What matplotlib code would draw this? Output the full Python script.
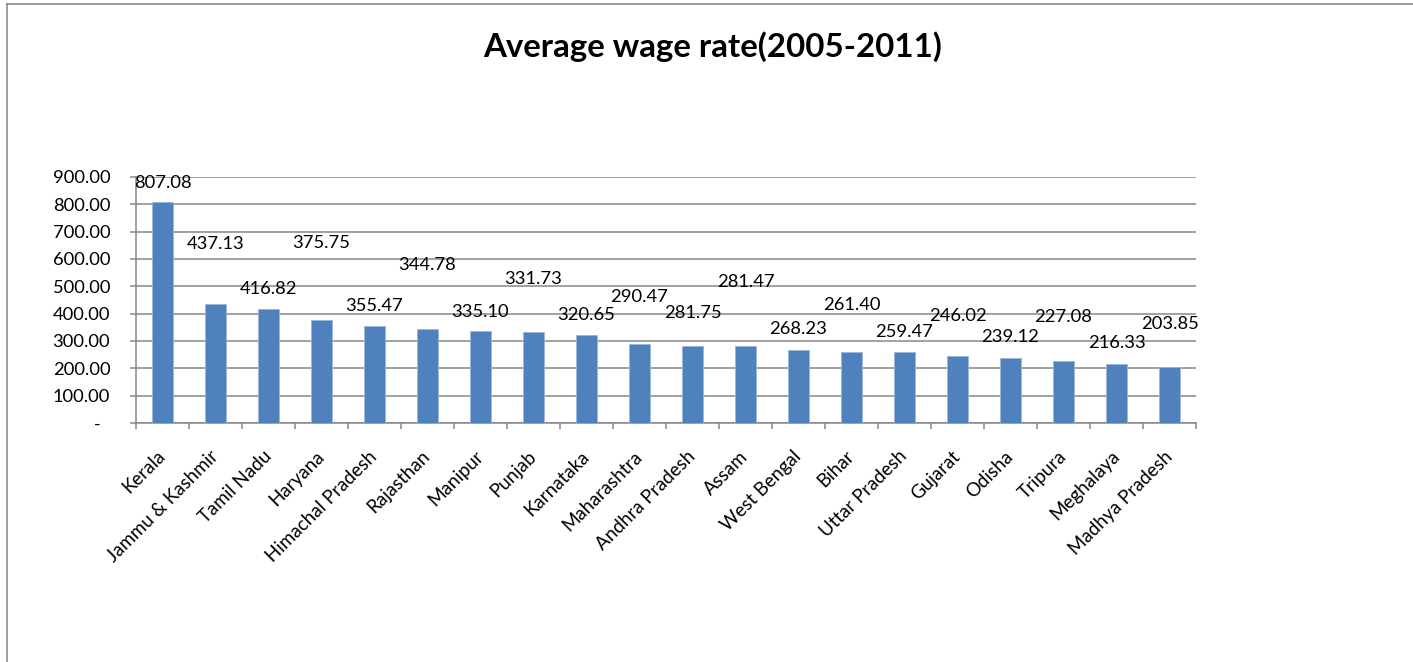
import matplotlib
matplotlib.use("Agg")
import matplotlib.pyplot as plt
from matplotlib.lines import Line2D
from matplotlib.ticker import FixedLocator, FuncFormatter
import numpy as np

states = [
    "Kerala", "Jammu & Kashmir", "Tamil Nadu", "Haryana", "Himachal Pradesh",
    "Rajasthan", "Manipur", "Punjab", "Karnataka", "Maharashtra",
    "Andhra Pradesh", "Assam", "West Bengal", "Bihar", "Uttar Pradesh",
    "Gujarat", "Odisha", "Tripura", "Meghalaya", "Madhya Pradesh",
]
wage = [
    807.08, 437.13, 416.82, 375.75, 355.47,
    344.78, 335.10, 331.73, 320.65, 290.47,
    281.75, 281.47, 268.23, 261.40, 259.47,
    246.02, 239.12, 227.08, 216.33, 203.85,
]

# heights (in axis units) where each value label sits
label_y = [
    879, 655, 490, 660, 428,
    578, 407, 527, 395, 461,
    404, 517, 344, 432, 334,
    391, 316, 389, 293, 362,
]

BAR = "#4F81BD"
GRID = "#878787"
FONT = "Lato"

plt.rcParams["font.family"] = [FONT, "DejaVu Sans"]

fig = plt.figure(figsize=(14.13, 6.62), dpi=100)
ax = fig.add_axes([136 / 1413, 1 - 423 / 662, (1196 - 136) / 1413, (423 - 177) / 662])

x = np.arange(len(states))
ax.bar(x, wage, width=0.4, color=BAR, edgecolor="#9ab6dc", linewidth=0.6, zorder=3)

for xi, v, ly in zip(x, wage, label_y):
    ax.text(xi, ly, f"{v:.2f}", ha="center", va="center", fontsize=13.2, zorder=4)

ax.set_xlim(-0.5, len(states) - 0.5)
ax.set_ylim(0, 900)

# horizontal gridlines every 100
ax.set_yticks(np.arange(0, 901, 100))
ax.yaxis.set_major_formatter(FuncFormatter(lambda v, p: "-  " if v == 0 else f"{v:.2f}"))
ax.grid(axis="y", color=GRID, linewidth=1.1, zorder=0)
ax.tick_params(axis="y", direction="out", length=4.5, width=1.1, color=GRID,
               labelsize=13.2, pad=14)

# category labels at bar centres, tick marks at category boundaries
ax.set_xticks(x)
ax.set_xticklabels(states, rotation=45, ha="right", va="center",
                   rotation_mode="anchor", fontsize=13.5)
ax.tick_params(axis="x", which="major", length=0, pad=22)
ax.xaxis.set_minor_locator(FixedLocator(np.arange(-0.5, len(states), 1.0)))
ax.tick_params(axis="x", which="minor", direction="out", length=4.5, width=1.1, color=GRID)

for side in ("top", "right"):
    ax.spines[side].set_visible(False)
for side in ("left", "bottom"):
    ax.spines[side].set_color(GRID)
    ax.spines[side].set_linewidth(1.1)

fig.text(713 / 1413, 1 - 47 / 662, "Average wage rate(2005-2011)",
         ha="center", va="center", fontsize=23.8, fontweight="bold")

# outer chart frame
fig.add_artist(Line2D([7 / 1413, 7 / 1413], [0, 1 - 4 / 662], transform=fig.transFigure,
                      color="#8c8c8c", linewidth=1.2))
fig.add_artist(Line2D([7 / 1413, 1], [1 - 4 / 662, 1 - 4 / 662], transform=fig.transFigure,
                      color="#8c8c8c", linewidth=1.2))

fig.savefig("out.png", dpi=100)
